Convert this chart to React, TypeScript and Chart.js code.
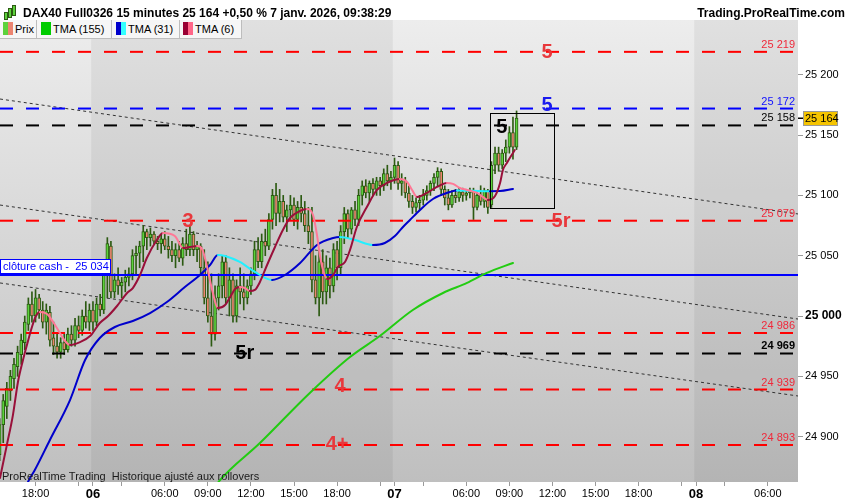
import React, { useEffect, useRef } from 'react';
import Chart from 'chart.js/auto';

const FONT = '"Liberation Sans", Arial, sans-serif';

// x = bar index (15 min bars, 0 = first bar of 6 Jan session)
const X_MIN = -25.9;
const X_MAX = 196.4;
const Y_MIN = 24862.4;
const Y_MAX = 25245.4;

const FIRST_BAR = -26;
const opens = [
  24885, 24910, 24925, 24938, 24948, 24958, 24968, 24978, 24993, 25010, 25000, 25015, 25005, 24995, 25003, 24982, 24975, 24970, 24978, 24972, 24985, 24980, 24992, 24988, 25000, 24995,
  25005, 24995, 25010, 25005, 25035, 25058, 25020, 25030, 25025, 25028,
  25032, 25035, 25050, 25052, 25058, 25070, 25065, 25068, 25062, 25060,
  25064, 25058, 25055, 25050, 25055, 25048, 25060, 25055, 25068, 25055,
  25058, 25040, 25015, 25000, 24985, 25015, 25025, 25045, 25015, 25030,
  25000, 25025, 25020, 25015, 25025, 25035, 25055, 25045, 25062, 25058,
  25080, 25100, 25085, 25095, 25082, 25088, 25092, 25080, 25090, 25085,
  25075, 25070, 25030, 25015, 25045, 25020, 25040, 25025, 25055, 25040,
  25070, 25085, 25072, 25088, 25080, 25100, 25108, 25102, 25110, 25105,
  25112, 25108, 25118, 25112, 25115, 25125, 25110, 25112, 25102, 25095,
  25090, 25094, 25096, 25100, 25104, 25110, 25115, 25120, 25105, 25098,
  25092, 25100, 25098, 25103, 25100, 25102, 25104, 25090, 25100, 25095,
  25104, 25092, 25125, 25135, 25125, 25135, 25140, 25152, 25140,
];
const highs = [
  24915, 24935, 24945, 24955, 24965, 24975, 24985, 25000, 25015, 25020, 25022, 25018, 25012, 25010, 25008, 24995, 24985, 24982, 24985, 24990, 24992, 24998, 25000, 25005, 25012, 25010,
  25012, 25015, 25018, 25040, 25065, 25062, 25035, 25040, 25032, 25038,
  25040, 25055, 25058, 25062, 25075, 25072, 25073, 25070, 25066, 25068,
  25070, 25066, 25062, 25060, 25062, 25065, 25072, 25075, 25070, 25062,
  25060, 25055, 25045, 25035, 25025, 25035, 25050, 25050, 25040, 25035,
  25030, 25040, 25035, 25030, 25040, 25062, 25065, 25068, 25072, 25085,
  25105, 25110, 25105, 25100, 25092, 25100, 25098, 25095, 25100, 25095,
  25090, 25090, 25050, 25055, 25055, 25050, 25048, 25060, 25062, 25075,
  25090, 25088, 25090, 25095, 25105, 25112, 25113, 25112, 25114, 25115,
  25115, 25122, 25125, 25120, 25131, 25128, 25118, 25115, 25108, 25100,
  25098, 25100, 25105, 25108, 25112, 25118, 25123, 25122, 25108, 25105,
  25104, 25105, 25106, 25106, 25105, 25106, 25106, 25103, 25108, 25106,
  25105, 25128, 25140, 25140, 25138, 25146, 25157, 25165, 25170,
];
const lows = [
  24880, 24895, 24915, 24930, 24940, 24950, 24960, 24972, 24988, 24995, 24995, 24998, 24990, 24985, 24975, 24968, 24965, 24965, 24968, 24970, 24975, 24975, 24982, 24984, 24990, 24988,
  24988, 24992, 25000, 25002, 25015, 25015, 25015, 25018, 25015, 25020,
  25025, 25030, 25035, 25040, 25045, 25055, 25058, 25060, 25055, 25052,
  25055, 25048, 25045, 25040, 25045, 25042, 25050, 25050, 25050, 25045,
  25035, 25010, 24995, 24975, 24980, 25005, 25015, 25010, 25000, 24995,
  24995, 25010, 25005, 25010, 25018, 25030, 25040, 25040, 25050, 25055,
  25072, 25075, 25078, 25078, 25070, 25080, 25075, 25072, 25078, 25070,
  25060, 25020, 25010, 25000, 25010, 25010, 25015, 25020, 25030, 25035,
  25060, 25065, 25068, 25075, 25075, 25092, 25098, 25095, 25100, 25100,
  25100, 25104, 25108, 25105, 25110, 25105, 25100, 25098, 25090, 25085,
  25086, 25088, 25092, 25096, 25100, 25104, 25108, 25100, 25092, 25088,
  25090, 25094, 25095, 25095, 25096, 25098, 25080, 25088, 25092, 25090,
  25085, 25090, 25118, 25120, 25122, 25128, 25135, 25130, 25138,
];
const closes = [
  24910, 24930, 24940, 24950, 24960, 24970, 24980, 24995, 25010, 25000, 25015, 25005, 24995, 25005, 24980, 24975, 24970, 24978, 24972, 24985, 24980, 24992, 24988, 25000, 24995, 25005,
  24995, 25010, 25005, 25035, 25060, 25020, 25030, 25025, 25028, 25032,
  25035, 25050, 25052, 25058, 25070, 25065, 25068, 25062, 25060, 25064,
  25058, 25055, 25050, 25055, 25048, 25060, 25055, 25068, 25055, 25058,
  25040, 25015, 25000, 24985, 25015, 25025, 25045, 25015, 25030, 25000,
  25025, 25020, 25015, 25025, 25035, 25055, 25045, 25062, 25058, 25080,
  25100, 25085, 25095, 25082, 25088, 25092, 25080, 25090, 25085, 25075,
  25070, 25030, 25015, 25045, 25020, 25040, 25025, 25055, 25040, 25070,
  25085, 25072, 25088, 25080, 25100, 25108, 25102, 25110, 25105, 25112,
  25108, 25118, 25112, 25115, 25125, 25110, 25112, 25102, 25095, 25090,
  25094, 25096, 25100, 25104, 25110, 25115, 25120, 25105, 25098, 25092,
  25100, 25098, 25103, 25100, 25102, 25104, 25090, 25100, 25095, 25104,
  25090, 25125, 25135, 25125, 25135, 25140, 25152, 25140, 25164,
];

// moving averages, [bar index, value]
const tma155 = [
  [33.4, 24855.7], [35.4, 24864.0], [46.5, 24894.7], [60.4, 24936.2], [71.6, 24966.0], [79.9, 24983.4],
  [89.1, 25005.0], [97.5, 25019.1], [104.2, 25027.4], [109.7, 25035.7], [117.0, 25044.0],
];
const tma31 = [
  [-18.9, 24855.7], [-18.1, 24862.4], [-16.2, 24872.3], [-12.0, 24897.2], [-6.4, 24930.3], [-2.2, 24963.5],
  [1.9, 24981.8], [6.1, 24990.9], [11.1, 24995.9], [15.9, 25002.5], [20.6, 25011.6], [25.6, 25024.0],
  [29.8, 25034.0], [32.6, 25042.3], [34.8, 25050.6], [36.8, 25049.8], [40.9, 25044.8], [45.1, 25036.5],
  [49.9, 25029.9], [53.5, 25034.0], [57.7, 25043.9], [62.4, 25058.9], [66.9, 25064.7], [68.8, 25065.5],
  [73.0, 25063.0], [78.0, 25058.9], [81.3, 25060.5], [84.1, 25066.3], [86.1, 25073.0], [88.3, 25079.6],
  [91.1, 25087.9], [94.7, 25097.0], [99.4, 25102.8], [101.4, 25104.1], [105.8, 25103.8], [110.6, 25103.5],
  [113.4, 25103.6], [117.0, 25105.3],
];
const tma6 = [
  [-25.9, 24865.7], [-24.0, 24893.0], [-22.3, 24917.9], [-20.9, 24945.3], [-19.5, 24963.5], [-18.4, 24976.0],
  [-17.0, 24990.9], [-15.9, 25000.0], [-14.8, 25003.3], [-12.8, 25001.7], [-11.1, 24995.0], [-9.2, 24985.9],
  [-7.8, 24979.3], [-6.4, 24976.0], [-3.6, 24978.4], [-0.8, 24983.4], [1.9, 24994.2], [4.2, 25000.0],
  [6.7, 25008.3], [9.5, 25019.1], [11.1, 25023.2], [13.1, 25034.0], [15.0, 25048.1], [17.8, 25063.0],
  [19.5, 25068.8], [22.8, 25066.3], [25.1, 25056.4], [27.0, 25057.2], [29.0, 25058.0], [30.4, 25055.6],
  [31.8, 25040.6], [33.4, 25019.1], [34.8, 25006.6], [36.8, 25009.1], [38.2, 25015.8], [39.6, 25022.4],
  [40.9, 25024.0], [42.3, 25023.2], [43.7, 25020.7], [45.1, 25021.6], [46.5, 25028.2], [48.5, 25042.3],
  [50.7, 25057.2], [52.9, 25071.3], [54.9, 25081.3], [57.7, 25087.1], [59.6, 25088.7], [61.3, 25083.7],
  [62.4, 25067.2], [63.2, 25050.6], [64.1, 25038.1], [65.2, 25030.7], [66.9, 25034.0], [68.2, 25040.6],
  [70.2, 25044.8], [71.6, 25054.7], [73.5, 25073.8], [76.3, 25090.4], [79.1, 25104.5], [81.9, 25110.3],
  [85.5, 25113.6], [87.5, 25111.1], [88.9, 25104.5], [90.3, 25098.7], [93.0, 25102.0], [95.8, 25107.0],
  [98.6, 25110.3], [100.3, 25109.5], [102.2, 25106.1], [104.2, 25104.5], [107.0, 25102.0], [108.6, 25098.7],
  [110.0, 25096.2], [112.0, 25099.5], [113.4, 25110.3], [114.2, 25121.1], [115.3, 25126.9], [117.0, 25135.2],
  [117.5, 25137.6],
];

// horizontal levels
const levelValues = [25219, 25172, 25158, 25079, 24986, 24969, 24939, 24893];
const levelKinds = ['r', 'b', 'k', 'r', 'r', 'k', 'r', 'r'];
const CASH_CLOSE = 25034;

// dotted channel lines: value at X_MIN and at X_MAX
const trendStart = [25179.9, 25092.0, 25027.4];
const trendEnd = [25084.6, 24997.5, 24933.7];

// wave labels
const markTexts = ['5', '5', '5', '3', '5r', '5r', '4', '4+'];
const markKinds = ['r', 'b', 'k', 'r', 'r', 'k', 'r', 'r'];
const markX = [126.5, 126.5, 113.9, 26.5, 130.4, 42.3, 68.8, 68.0];
const markY = [25219.7, 25175.0, 25157.5, 25079.6, 25079.6, 24970.1, 24942.0, 24894.7];

const boxX = [110.6, 128.4];
const boxY = [25168.3, 25089.6];

const xTickValues = [-16, -4, 0, 8, 20, 32, 44, 56, 68, 80, 84, 92, 104, 116, 128, 140, 152, 164, 168, 176, 188];
const xTickLabels = ['18:00', '', '06', '', '06:00', '09:00', '12:00', '15:00', '18:00', '', '07', '', '06:00', '09:00', '12:00', '15:00', '18:00', '', '08', '', '06:00'];
const dayTicks = [0, 84, 168];
const darkSessions = [[-0.5, 83.5], [167.5, 260]];
const yTickValues = [24900, 24950, 25000, 25050, 25100, 25150, 25200];

const LINE_COLORS: Record<string, string> = { r: '#ff0000', b: '#0000ff', k: '#000000' };
const TEXT_COLORS: Record<string, string> = { r: '#f0283a', b: '#1010ff', k: '#000000' };
const MARK_COLORS: Record<string, string> = { r: '#e8383c', b: '#1a1aee', k: '#000000' };
const UP = '#5cd23c';
const DOWN = '#ec8470';
const WICK = '#2c5a12';

const fmt = (v: number) => {
  const s = String(Math.round(v));
  return s.slice(0, -3) + ' ' + s.slice(-3);
};

const bgPlugin = {
  id: 'bg',
  beforeDraw(chart: any) {
    const { ctx, chartArea: a, scales } = chart;
    const g = ctx.createLinearGradient(0, a.top, 0, a.bottom);
    g.addColorStop(0, '#ededed');
    g.addColorStop(1, '#bfbfbf');
    ctx.save();
    ctx.fillStyle = g;
    ctx.fillRect(a.left, a.top, a.width, a.height);
    ctx.fillStyle = 'rgba(0,0,0,0.055)';
    darkSessions.forEach(([s, e]) => {
      const x0 = Math.max(a.left, scales.x.getPixelForValue(s));
      const x1 = Math.min(a.right, scales.x.getPixelForValue(e));
      if (x1 > x0) ctx.fillRect(x0, a.top, x1 - x0, a.height);
    });
    ctx.restore();
  },
};

const overlayPlugin = {
  id: 'overlay',
  afterDatasetsDraw(chart: any) {
    const { ctx, chartArea: a, scales } = chart;
    const x = scales.x;
    const y = scales.y;
    ctx.save();
    ctx.beginPath();
    ctx.rect(a.left, a.top, a.width, a.height);
    ctx.clip();

    // level values on the right
    ctx.textAlign = 'right';
    ctx.textBaseline = 'alphabetic';
    levelValues.forEach((v, i) => {
      ctx.font = (v === 24969 ? 'bold ' : '') + '11px ' + FONT;
      ctx.fillStyle = TEXT_COLORS[levelKinds[i]];
      ctx.fillText(fmt(v), a.right - 3, y.getPixelForValue(v) - 4);
    });

    // box round the last move
    const bx0 = Math.round(x.getPixelForValue(boxX[0])) + 0.5;
    const bx1 = Math.round(x.getPixelForValue(boxX[1])) + 0.5;
    const by0 = Math.round(y.getPixelForValue(boxY[0])) + 0.5;
    const by1 = Math.round(y.getPixelForValue(boxY[1])) + 0.5;
    ctx.strokeStyle = '#000';
    ctx.lineWidth = 1;
    ctx.strokeRect(bx0, by0, bx1 - bx0, by1 - by0);

    // wave marks
    ctx.font = 'bold 20px ' + FONT;
    ctx.textAlign = 'center';
    ctx.textBaseline = 'middle';
    markTexts.forEach((t, i) => {
      ctx.fillStyle = MARK_COLORS[markKinds[i]];
      ctx.fillText(t, x.getPixelForValue(markX[i]), y.getPixelForValue(markY[i]) + 1);
    });

    // cash close tag
    const cy = Math.round(y.getPixelForValue(CASH_CLOSE));
    ctx.fillStyle = '#fff';
    ctx.fillRect(0, cy - 16, 111, 14);
    ctx.strokeStyle = '#0000ff';
    ctx.strokeRect(0.5, cy - 15.5, 110, 14);
    ctx.fillStyle = '#0000ff';
    ctx.font = '11px ' + FONT;
    ctx.textAlign = 'left';
    ctx.fillText('clôture cash -  ' + fmt(CASH_CLOSE), 3, cy - 8);

    // footer
    ctx.fillStyle = '#1a1a1a';
    ctx.font = '11px ' + FONT;
    ctx.textBaseline = 'alphabetic';
    ctx.fillText('ProRealTime Trading  Historique ajusté aux rollovers', 2, a.bottom - 2);
    ctx.restore();
  },
  afterDraw(chart: any) {
    const { ctx, chartArea: a, scales } = chart;
    const last = closes[closes.length - 1];
    const py = Math.round(scales.y.getPixelForValue(last));
    ctx.save();
    ctx.fillStyle = '#000';
    ctx.fillRect(a.right, py - 0.5, 5, 1.5);
    ctx.fillStyle = '#f5c400';
    ctx.fillRect(a.right + 5, py - 7, 35, 15);
    ctx.strokeStyle = '#9a9a9a';
    ctx.lineWidth = 1;
    ctx.strokeRect(a.right + 5.5, py - 6.5, 34, 14);
    ctx.fillStyle = '#000';
    ctx.font = '11px ' + FONT;
    ctx.textAlign = 'left';
    ctx.textBaseline = 'middle';
    ctx.fillText(fmt(last), a.right + 7, py + 1);
    ctx.restore();
  },
};

const legendTabs = [
  { left: 0, width: 37, pad: 3, text: 'Prix', c1: UP, c2: DOWN },
  { left: 37, width: 75, pad: 4, text: 'TMA (155)', c1: '#00cc00', c2: '#00cc00' },
  { left: 112, width: 68, pad: 4, text: 'TMA (31)', c1: '#0000cc', c2: '#33ffff' },
  { left: 180, width: 62, pad: 3, text: 'TMA (6)', c1: '#990033', c2: '#ff6688' },
];

export default function App() {
  const canvasRef = useRef<HTMLCanvasElement | null>(null);

  useEffect(() => {
    if (!canvasRef.current) return;
    Chart.defaults.font.family = FONT;

    const bars = opens.map((_, k) => FIRST_BAR + k);
    const tmaDataset = (pts: number[][], rise: string, fall: string) => ({
      type: 'line' as const,
      data: pts.map(([px, py]) => ({ x: px, y: py })),
      borderColor: rise,
      borderWidth: 2,
      pointRadius: 0,
      cubicInterpolationMode: 'monotone' as const,
      borderCapStyle: 'round' as const,
      segment: {
        borderColor: (c: any) => (c.p1.parsed.y < c.p0.parsed.y ? fall : rise),
      },
      order: 0,
    });

    const chart = new Chart(canvasRef.current, {
      type: 'bar',
      data: {
        datasets: [
          tmaDataset(tma6, '#99103a', '#ff7896'),
          tmaDataset(tma31, '#0000cc', '#22f0ff'),
          tmaDataset(tma155, '#22cc11', '#22cc11'),
          {
            type: 'line',
            data: [{ x: X_MIN, y: CASH_CLOSE }, { x: X_MAX, y: CASH_CLOSE }],
            borderColor: '#0000ff',
            borderWidth: 2,
            pointRadius: 0,
            order: 1,
          },
          ...levelValues.map((v, i) => ({
            type: 'line' as const,
            data: [{ x: X_MIN, y: v }, { x: X_MAX, y: v }],
            borderColor: LINE_COLORS[levelKinds[i]],
            borderWidth: 2,
            borderDash: [13, 13],
            pointRadius: 0,
            order: 1,
          })),
          {
            type: 'bar',
            data: bars.map((b, k) => ({
              x: b,
              y: [Math.min(opens[k], closes[k]), Math.max(opens[k], closes[k])],
            })),
            backgroundColor: bars.map((_, k) => (closes[k] >= opens[k] ? UP : DOWN)),
            borderColor: WICK,
            borderWidth: 1,
            borderSkipped: false,
            barThickness: 3,
            grouped: false,
            order: 2,
          },
          {
            type: 'bar',
            data: bars.map((b, k) => ({ x: b, y: [lows[k], highs[k]] })),
            backgroundColor: WICK,
            borderWidth: 0,
            barThickness: 1,
            grouped: false,
            order: 3,
          },
          ...trendStart.map((v, i) => ({
            type: 'line' as const,
            data: [{ x: X_MIN, y: v }, { x: X_MAX, y: trendEnd[i] }],
            borderColor: '#333333',
            borderWidth: 1,
            borderDash: [3, 3],
            pointRadius: 0,
            order: 4,
          })),
        ] as any,
      },
      options: {
        animation: false,
        responsive: false,
        events: [],
        layout: { padding: { top: 20, left: 0, right: 0, bottom: 0 } },
        plugins: {
          legend: { display: false },
          tooltip: { enabled: false },
        },
        scales: {
          x: {
            type: 'linear',
            min: X_MIN,
            max: X_MAX,
            offset: false,
            border: { display: false },
            grid: { drawOnChartArea: false, drawTicks: true, tickLength: 4, color: '#9a9a9a', offset: false },
            afterBuildTicks: (s: any) => {
              s.ticks = xTickValues.map((value) => ({ value }));
            },
            afterFit: (s: any) => {
              s.height = 18;
              s.paddingLeft = 0;
              s.paddingRight = 0;
            },
            ticks: {
              autoSkip: false,
              maxRotation: 0,
              padding: 1,
              color: '#000',
              font: (c: any) =>
                c.tick && dayTicks.includes(c.tick.value)
                  ? { family: FONT, size: 13, weight: 'bold' }
                  : { family: FONT, size: 11 },
              callback: (v: any) => xTickLabels[xTickValues.indexOf(Number(v))] ?? '',
            },
          },
          y: {
            type: 'linear',
            position: 'right',
            min: Y_MIN,
            max: Y_MAX,
            border: { display: false },
            grid: { drawOnChartArea: false, drawTicks: true, tickLength: 5, color: '#9a9a9a' },
            afterBuildTicks: (s: any) => {
              s.ticks = yTickValues.map((value) => ({ value }));
            },
            afterFit: (s: any) => {
              s.width = 52;
              s.paddingTop = 0;
              s.paddingBottom = 0;
            },
            ticks: {
              padding: 2,
              color: '#000',
              font: (c: any) =>
                c.tick && c.tick.value === 25000
                  ? { family: FONT, size: 12, weight: 'bold' }
                  : { family: FONT, size: 11 },
              callback: (v: any) => fmt(Number(v)),
            },
          },
        },
      } as any,
      plugins: [bgPlugin, overlayPlugin],
    });

    return () => {
      chart.destroy();
    };
  }, []);

  return (
    <div style={{ position: 'absolute', left: 0, top: 0, width: 850, height: 500, background: '#fff', fontFamily: FONT, overflow: 'hidden' }}>
      <canvas ref={canvasRef} width={850} height={500} style={{ position: 'absolute', left: 0, top: 0 }} />
      {/* header */}
      <div style={{ position: 'absolute', left: 0, top: 0, width: 850, height: 20, background: '#fff' }}>
        {[[4, 9, 6], [8, 5, 8], [12, 2, 9]].map(([l, t, h], i) => (
          <div key={i} style={{ position: 'absolute', left: l, top: t + 3, width: 2, height: h, background: UP, border: '1px solid ' + WICK }} />
        ))}
        <span style={{ position: 'absolute', left: 23, top: 3, lineHeight: '20px', fontSize: 12, fontWeight: 'bold', whiteSpace: 'pre' }}>
          DAX40 Full0326 15 minutes 25 164 +0,50 % 7 janv. 2026, 09:38:29
        </span>
        <span style={{ position: 'absolute', right: 5, top: 3, lineHeight: '20px', fontSize: 12, fontWeight: 'bold' }}>
          Trading.ProRealTime.com
        </span>
      </div>
      {/* legend tabs */}
      {legendTabs.map((t) => (
        <div
          key={t.text}
          style={{
            position: 'absolute',
            left: t.left,
            top: 20,
            width: t.width - 1,
            height: 18,
            background: '#f6f6f6',
            borderRight: '1px solid #bdbdbd',
            borderBottom: '1px solid #bdbdbd',
          }}
        >
          <div style={{ position: 'absolute', left: t.pad, top: 2, width: 5, height: 13, background: t.c1 }} />
          <div style={{ position: 'absolute', left: t.pad + 5, top: 2, width: 5, height: 13, background: t.c2 }} />
          <span style={{ position: 'absolute', left: t.pad + 12, top: 0, lineHeight: '19px', fontSize: 11, whiteSpace: 'pre', color: '#000' }}>
            {t.text}
          </span>
        </div>
      ))}
    </div>
  );
}
